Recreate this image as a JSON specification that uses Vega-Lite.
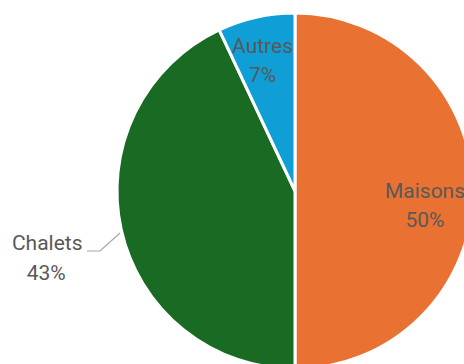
{
  "$schema": "https://vega.github.io/schema/vega-lite/v6.json",
  "width": 590,
  "height": 382,
  "padding": 0,
  "autosize": {"type": "none"},
  "background": "white",
  "config": {"view": {"stroke": null}, "text": {"font": "Roboto", "fontSize": 21, "color": "#595959", "baseline": "middle", "align": "center"}},
  "datasets": {
    "slices": [
      {"name": "Maisons", "share": 0.50, "ord": 1},
      {"name": "Chalets", "share": 0.43, "ord": 2},
      {"name": "Autres", "share": 0.07, "ord": 3}
    ],
    "leader": [
      {"lx": -1.1685, "ly": -0.3371, "k": 1},
      {"lx": -1.0955, "ly": -0.3371, "k": 2},
      {"lx": -0.9831, "ly": -0.2360, "k": 3}
    ]
  },
  "layer": [
    {
      "data": {"name": "slices"},
      "mark": {"type": "arc", "radius": 178, "stroke": "white", "strokeWidth": 3},
      "encoding": {
        "theta": {"field": "share", "type": "quantitative", "stack": true},
        "order": {"field": "ord", "type": "quantitative"},
        "color": {"field": "name", "type": "nominal", "scale": {"domain": ["Maisons", "Chalets", "Autres"], "range": ["#E97132", "#196B24", "#0F9ED5"]}, "legend": null}
      }
    },
    {
      "data": {"name": "slices"},
      "mark": {"type": "text", "radius": 130, "dy": 1},
      "encoding": {
        "theta": {"field": "share", "type": "quantitative", "stack": true},
        "order": {"field": "ord", "type": "quantitative"},
        "text": {"field": "name", "type": "nominal"},
        "opacity": {"condition": {"test": "datum.name === 'Maisons'", "value": 1}, "value": 0}
      }
    },
    {
      "data": {"name": "slices"},
      "mark": {"type": "text", "radius": 130, "dy": 30},
      "encoding": {
        "theta": {"field": "share", "type": "quantitative", "stack": true},
        "order": {"field": "ord", "type": "quantitative"},
        "text": {"field": "share", "type": "quantitative", "format": ".0%"},
        "opacity": {"condition": {"test": "datum.name === 'Maisons'", "value": 1}, "value": 0}
      }
    },
    {
      "data": {"name": "slices"},
      "mark": {"type": "text", "radius": 135, "dy": -12, "dx": -3},
      "encoding": {
        "theta": {"field": "share", "type": "quantitative", "stack": true},
        "order": {"field": "ord", "type": "quantitative"},
        "text": {"field": "name", "type": "nominal"},
        "opacity": {"condition": {"test": "datum.name === 'Autres'", "value": 1}, "value": 0}
      }
    },
    {
      "data": {"name": "slices"},
      "mark": {"type": "text", "radius": 135, "dy": 17, "dx": -3},
      "encoding": {
        "theta": {"field": "share", "type": "quantitative", "stack": true},
        "order": {"field": "ord", "type": "quantitative"},
        "text": {"field": "share", "type": "quantitative", "format": ".0%"},
        "opacity": {"condition": {"test": "datum.name === 'Autres'", "value": 1}, "value": 0}
      }
    },
    {
      "data": {"name": "slices"},
      "mark": {"type": "text", "radius": 257, "dy": -3, "dx": 3},
      "encoding": {
        "theta": {"field": "share", "type": "quantitative", "stack": true},
        "order": {"field": "ord", "type": "quantitative"},
        "text": {"field": "name", "type": "nominal"},
        "opacity": {"condition": {"test": "datum.name === 'Chalets'", "value": 1}, "value": 0}
      }
    },
    {
      "data": {"name": "slices"},
      "mark": {"type": "text", "radius": 257, "dy": 27, "dx": 2},
      "encoding": {
        "theta": {"field": "share", "type": "quantitative", "stack": true},
        "order": {"field": "ord", "type": "quantitative"},
        "text": {"field": "share", "type": "quantitative", "format": ".0%"},
        "opacity": {"condition": {"test": "datum.name === 'Chalets'", "value": 1}, "value": 0}
      }
    },
    {
      "data": {"name": "leader"},
      "mark": {"type": "line", "color": "#A6A6A6", "strokeWidth": 1.2},
      "encoding": {
        "x": {"field": "lx", "type": "quantitative", "scale": {"domain": [-1.6573, 1.6573], "nice": false, "zero": false}, "axis": null},
        "y": {"field": "ly", "type": "quantitative", "scale": {"domain": [-1.0730, 1.0730], "nice": false, "zero": false}, "axis": null},
        "order": {"field": "k", "type": "quantitative"}
      }
    }
  ]
}
